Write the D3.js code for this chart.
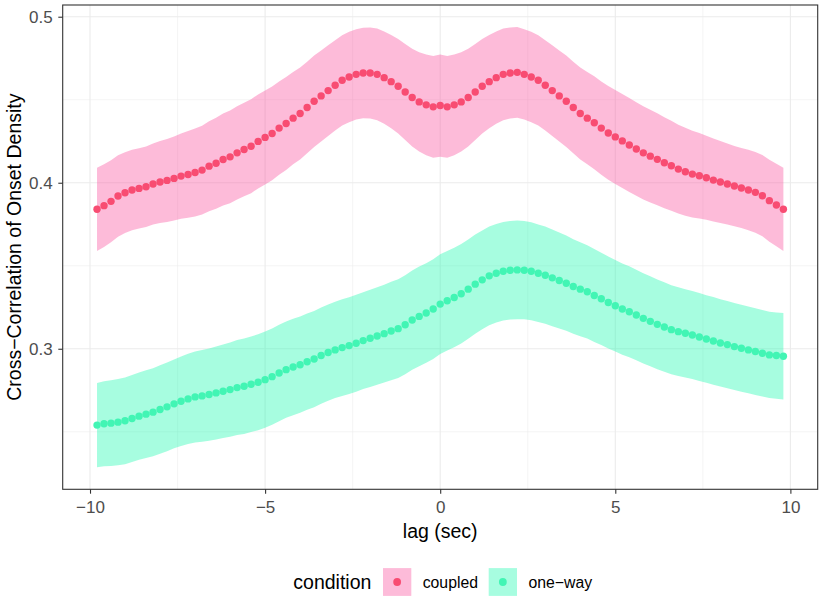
<!DOCTYPE html>
<meta charset="utf-8">
<title>Cross-Correlation of Onset Density</title>
<style>

    body {
        margin: 0;
        background: #fff;
    }

    text {
        font-family: "Liberation Sans", Arial, sans-serif;
    }

</style>
<body>
<script src="https://d3js.org/d3.v7.min.js"></script>
<script>

    var lags = [
        -9.8, -9.6, -9.4, -9.2, -9.0, -8.8, -8.6, -8.4, -8.2, -8.0,
        -7.8, -7.6, -7.4, -7.2, -7.0, -6.8, -6.6, -6.4, -6.2, -6.0,
        -5.8, -5.6, -5.4, -5.2, -5.0, -4.8, -4.6, -4.4, -4.2, -4.0,
        -3.8, -3.6, -3.4, -3.2, -3.0, -2.8, -2.6, -2.4, -2.2, -2.0,
        -1.8, -1.6, -1.4, -1.2, -1.0, -0.8, -0.6, -0.4, -0.2, 0.0,
        0.2, 0.4, 0.6, 0.8, 1.0, 1.2, 1.4, 1.6, 1.8, 2.0,
        2.2, 2.4, 2.6, 2.8, 3.0, 3.2, 3.4, 3.6, 3.8, 4.0,
        4.2, 4.4, 4.6, 4.8, 5.0, 5.2, 5.4, 5.6, 5.8, 6.0,
        6.2, 6.4, 6.6, 6.8, 7.0, 7.2, 7.4, 7.6, 7.8, 8.0,
        8.2, 8.4, 8.6, 8.8, 9.0, 9.2, 9.4, 9.6, 9.8
    ];

    var coupled = [
        0.3840, 0.3862, 0.3888, 0.3920, 0.3940, 0.3956, 0.3966, 0.3976, 0.3992, 0.4004,
        0.4014, 0.4026, 0.4040, 0.4050, 0.4062, 0.4076, 0.4100, 0.4117, 0.4140, 0.4156,
        0.4180, 0.4200, 0.4220, 0.4249, 0.4273, 0.4297, 0.4329, 0.4357, 0.4389, 0.4417,
        0.4453, 0.4491, 0.4523, 0.4555, 0.4587, 0.4617, 0.4637, 0.4653, 0.4661, 0.4661,
        0.4653, 0.4633, 0.4609, 0.4581, 0.4547, 0.4513, 0.4487, 0.4469, 0.4457, 0.4465,
        0.4457, 0.4469, 0.4487, 0.4513, 0.4547, 0.4581, 0.4609, 0.4633, 0.4653, 0.4661,
        0.4665, 0.4653, 0.4637, 0.4617, 0.4587, 0.4555, 0.4523, 0.4491, 0.4453, 0.4417,
        0.4389, 0.4361, 0.4329, 0.4300, 0.4276, 0.4252, 0.4227, 0.4203, 0.4180, 0.4160,
        0.4141, 0.4120, 0.4102, 0.4082, 0.4066, 0.4052, 0.4042, 0.4030, 0.4016, 0.4004,
        0.3992, 0.3980, 0.3968, 0.3956, 0.3942, 0.3922, 0.3892, 0.3866, 0.3840
    ];

    // half-width of the ribbon
    var coupledCI = [
        0.0251, 0.0249, 0.0247, 0.0245, 0.0243, 0.0242, 0.0241, 0.0242, 0.0244, 0.0247,
        0.0250, 0.0253, 0.0257, 0.0261, 0.0265, 0.0268, 0.0271, 0.0274, 0.0277, 0.0279,
        0.0281, 0.0282, 0.0283, 0.0283, 0.0283, 0.0282, 0.0281, 0.0280, 0.0278, 0.0277,
        0.0276, 0.0275, 0.0274, 0.0273, 0.0272, 0.0272, 0.0272, 0.0272, 0.0273, 0.0274,
        0.0276, 0.0278, 0.0281, 0.0285, 0.0289, 0.0294, 0.0299, 0.0303, 0.0306, 0.0308,
        0.0306, 0.0303, 0.0299, 0.0294, 0.0289, 0.0285, 0.0281, 0.0278, 0.0276, 0.0274,
        0.0273, 0.0272, 0.0272, 0.0272, 0.0272, 0.0273, 0.0274, 0.0275, 0.0276, 0.0277,
        0.0278, 0.0280, 0.0281, 0.0282, 0.0283, 0.0283, 0.0283, 0.0282, 0.0281, 0.0279,
        0.0277, 0.0274, 0.0271, 0.0268, 0.0265, 0.0261, 0.0257, 0.0253, 0.0250, 0.0247,
        0.0244, 0.0242, 0.0241, 0.0242, 0.0243, 0.0245, 0.0247, 0.0249, 0.0251
    ];

    var oneWay = [
        0.2540, 0.2548, 0.2552, 0.2558, 0.2566, 0.2580, 0.2594, 0.2606, 0.2618, 0.2634,
        0.2650, 0.2668, 0.2684, 0.2698, 0.2710, 0.2716, 0.2724, 0.2734, 0.2744, 0.2754,
        0.2766, 0.2774, 0.2786, 0.2798, 0.2814, 0.2832, 0.2854, 0.2874, 0.2890, 0.2904,
        0.2922, 0.2938, 0.2959, 0.2977, 0.2993, 0.3007, 0.3019, 0.3033, 0.3049, 0.3063,
        0.3077, 0.3091, 0.3107, 0.3121, 0.3145, 0.3173, 0.3195, 0.3215, 0.3239, 0.3269,
        0.3289, 0.3309, 0.3331, 0.3359, 0.3389, 0.3415, 0.3439, 0.3455, 0.3467, 0.3473,
        0.3475, 0.3473, 0.3467, 0.3455, 0.3443, 0.3427, 0.3411, 0.3395, 0.3375, 0.3359,
        0.3343, 0.3321, 0.3301, 0.3279, 0.3259, 0.3239, 0.3223, 0.3203, 0.3183, 0.3165,
        0.3147, 0.3131, 0.3115, 0.3103, 0.3093, 0.3083, 0.3071, 0.3059, 0.3047, 0.3035,
        0.3025, 0.3013, 0.3003, 0.2993, 0.2983, 0.2973, 0.2963, 0.2959, 0.2955
    ];

    var oneWayCI = [
        0.0254, 0.0256, 0.0258, 0.0260, 0.0261, 0.0262, 0.0263, 0.0264, 0.0265, 0.0266,
        0.0267, 0.0268, 0.0270, 0.0272, 0.0274, 0.0276, 0.0278, 0.0280, 0.0282, 0.0284,
        0.0286, 0.0287, 0.0288, 0.0289, 0.0290, 0.0290, 0.0290, 0.0290, 0.0290, 0.0290,
        0.0290, 0.0290, 0.0290, 0.0290, 0.0290, 0.0291, 0.0291, 0.0292, 0.0292, 0.0293,
        0.0294, 0.0295, 0.0296, 0.0297, 0.0298, 0.0299, 0.0300, 0.0300, 0.0300, 0.0300,
        0.0300, 0.0300, 0.0300, 0.0299, 0.0299, 0.0298, 0.0298, 0.0297, 0.0297, 0.0297,
        0.0297, 0.0296, 0.0295, 0.0294, 0.0293, 0.0291, 0.0289, 0.0287, 0.0285, 0.0283,
        0.0281, 0.0280, 0.0278, 0.0277, 0.0276, 0.0275, 0.0274, 0.0273, 0.0272, 0.0271,
        0.0270, 0.0269, 0.0268, 0.0267, 0.0266, 0.0265, 0.0265, 0.0264, 0.0264, 0.0263,
        0.0263, 0.0262, 0.0262, 0.0261, 0.0261, 0.0260, 0.0260, 0.0260, 0.0260
    ];

    var conditions = ["coupled", "one\u2212way"];
    var pointColors = ["#F84C72", "#42F5B4"];
    var ribbonColors = ["#FA569F", "#22F9B2"];

    var xTicks = [-10, -5, 0, 5, 10],
        xMinor = [-7.5, -2.5, 2.5, 7.5],
        yTicks = [0.3, 0.4, 0.5],
        yMinor = [0.25, 0.35, 0.45];

    var w = 822,
        h = 600,
        margin = {top: 5, right: 4.3, bottom: 110.7, left: 62.7},
        pw = w - margin.left - margin.right,
        ph = h - margin.top - margin.bottom;

    var series = [
        {name: conditions[0], mean: coupled, ci: coupledCI},
        {name: conditions[1], mean: oneWay, ci: oneWayCI}
    ].map(function(s, i) {
        s.color = pointColors[i];
        s.fill = ribbonColors[i];
        s.values = lags.map(function(l, j) {
            return {lag: l, mean: s.mean[j], lo: s.mean[j] - s.ci[j], hi: s.mean[j] + s.ci[j]};
        });
        return s;
    });

    var xExt = d3.extent(lags),
        xPad = (xExt[1] - xExt[0]) * 0.05,
        yLo = d3.min(series, function(s) { return d3.min(s.values, function(d) { return d.lo; }); }),
        yHi = d3.max(series, function(s) { return d3.max(s.values, function(d) { return d.hi; }); }),
        yPad = (yHi - yLo) * 0.05;

    var x = d3.scaleLinear()
        .domain([xExt[0] - xPad, xExt[1] + xPad])
        .range([0, pw]);

    var y = d3.scaleLinear()
        .domain([yLo - yPad, yHi + yPad])
        .range([ph, 0]);

    var svg = d3.select("body").append("svg")
        .attr("width", w)
        .attr("height", h);

    var g = svg.append("g")
        .attr("transform", "translate(" + margin.left + "," + margin.top + ")");

    // grid
    g.selectAll(".xminor").data(xMinor).enter().append("line")
        .attr("x1", x).attr("x2", x).attr("y1", 0).attr("y2", ph)
        .attr("stroke", "#EBEBEB").attr("stroke-width", 0.55);
    g.selectAll(".yminor").data(yMinor).enter().append("line")
        .attr("y1", y).attr("y2", y).attr("x1", 0).attr("x2", pw)
        .attr("stroke", "#EBEBEB").attr("stroke-width", 0.55);
    g.selectAll(".xmajor").data(xTicks).enter().append("line")
        .attr("x1", x).attr("x2", x).attr("y1", 0).attr("y2", ph)
        .attr("stroke", "#EBEBEB").attr("stroke-width", 1.1);
    g.selectAll(".ymajor").data(yTicks).enter().append("line")
        .attr("y1", y).attr("y2", y).attr("x1", 0).attr("x2", pw)
        .attr("stroke", "#EBEBEB").attr("stroke-width", 1.1);

    var area = d3.area()
        .x(function(d) { return x(d.lag); })
        .y0(function(d) { return y(d.lo); })
        .y1(function(d) { return y(d.hi); });

    g.selectAll(".ribbon").data(series).enter().append("path")
        .attr("d", function(s) { return area(s.values); })
        .attr("fill", function(s) { return s.fill; })
        .attr("fill-opacity", 0.4);

    series.forEach(function(s) {
        g.append("g").selectAll("circle")
            .data(s.values)
            .enter().append("circle")
            .attr("cx", function(d) { return x(d.lag); })
            .attr("cy", function(d) { return y(d.mean); })
            .attr("r", 3.7)
            .attr("fill", s.color);
    });

    g.append("rect")
        .attr("width", pw)
        .attr("height", ph)
        .attr("fill", "none")
        .attr("stroke", "#333333")
        .attr("stroke-width", 1.1);

    // axes
    var xAxis = g.append("g")
        .attr("transform", "translate(0," + ph + ")")
        .call(d3.axisBottom(x).tickValues(xTicks).tickSize(4.4).tickPadding(7.6).tickFormat(d3.format("d")));

    var yAxis = g.append("g")
        .call(d3.axisLeft(y).tickValues(yTicks).tickSize(4.4).tickPadding(5.6).tickFormat(d3.format(".1f")));

    [xAxis, yAxis].forEach(function(a) {
        a.select(".domain").remove();
        a.selectAll(".tick line").attr("stroke", "#333333").attr("stroke-width", 1.1);
        a.selectAll(".tick text")
            .attr("fill", "#4D4D4D")
            .style("font-size", "17px")
            .style("font-family", "'Liberation Sans', Arial, sans-serif");
    });
    yAxis.selectAll(".tick text").attr("dy", "0.34em");

    svg.append("text")
        .attr("x", margin.left + x(0))
        .attr("y", 538)
        .attr("text-anchor", "middle")
        .style("font-size", "19.5px")
        .text("lag (sec)");

    svg.append("text")
        .attr("transform", "translate(21," + (margin.top + ph / 2) + ")rotate(-90)")
        .attr("text-anchor", "middle")
        .style("font-size", "19.5px")
        .text("Cross\u2212Correlation of Onset Density");

    // legend
    var legend = svg.append("g").attr("transform", "translate(0,582)");

    legend.append("text")
        .attr("x", 293.3)
        .attr("y", 7)
        .style("font-size", "19.5px")
        .text("condition");

    var keyX = [383, 488.7];

    var keys = legend.selectAll(".key")
        .data(series)
        .enter().append("g")
        .attr("transform", function(s, i) { return "translate(" + keyX[i] + ",0)"; });

    keys.append("rect")
        .attr("y", -13.9)
        .attr("width", 28.3)
        .attr("height", 27.8)
        .attr("fill", function(s) { return s.fill; })
        .attr("fill-opacity", 0.4);

    keys.append("circle")
        .attr("cx", 14.15)
        .attr("cy", 0)
        .attr("r", 3.9)
        .attr("fill", function(s) { return s.color; });

    keys.append("text")
        .attr("x", 39.7)
        .attr("y", 5.7)
        .style("font-size", "15.8px")
        .text(function(s) { return s.name; });

</script>
